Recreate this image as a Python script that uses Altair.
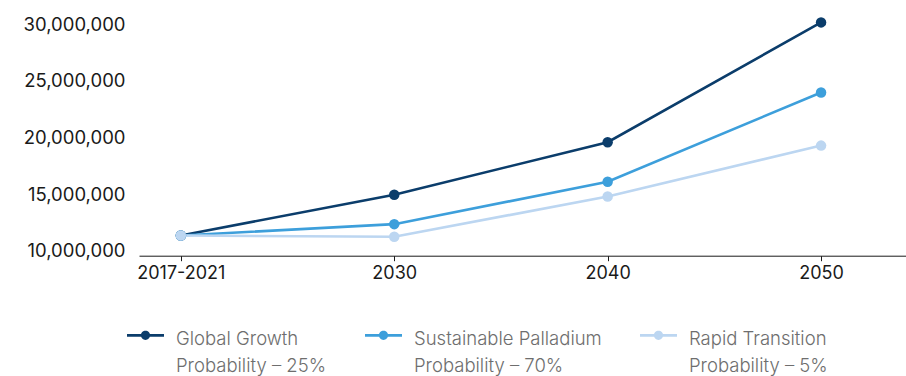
import altair as alt
import pandas as pd

periods = ["2017-2021", "2030", "2040", "2050"]
scenarios = ["Global Growth|Probability – 25%",
             "Sustainable Palladium|Probability – 70%",
             "Rapid Transition|Probability – 5%"]
colors = ["#0b3d6b", "#3d9fdb", "#bcd6f1"]
global_growth = [11.2e6, 14.8e6, 19.45e6, 30.05e6]
sustainable = [11.2e6, 12.2e6, 15.95e6, 23.85e6]
rapid = [11.2e6, 11.08e6, 14.65e6, 19.15e6]
y_ticks = [10e6, 15e6, 20e6, 25e6, 30e6]

rows = []
for name, vals in zip(scenarios, [global_growth, sustainable, rapid]):
    for p, v in zip(periods, vals):
        rows.append({"period": p, "scenario": name, "value": v})
df = pd.DataFrame(rows)

font = "Inter"
sym = ("M-1,-0.25 H1 V-0.09 H-1 Z "
       "M0.25,-0.17 A0.25,0.25 0 1,1 -0.25,-0.17 A0.25,0.25 0 1,1 0.25,-0.17 Z")

color = alt.Color(
    "scenario:N",
    scale=alt.Scale(domain=scenarios, range=colors),
    sort=scenarios,
    legend=alt.Legend(
        title=None, orient="none", legendX=-12, legendY=315,
        direction="horizontal", columns=3, columnPadding=38,
        symbolType=sym, symbolSize=1369, symbolStrokeWidth=0,
        labelExpr="split(datum.label, '|')",
        labelFont=font, labelFontSize=18.5, labelFontWeight=300,
        labelColor="#6e6e6e", labelOffset=12,
        labelBaseline="middle", labelLimit=300,
    ),
)

x = alt.X("period:N", sort=periods,
          scale=alt.Scale(domain=periods, padding=0.297, align=0.33),
          axis=alt.Axis(title=None, labelAngle=0, labelFont=font, labelFontSize=18,
                        labelColor="#1a1a1a", domainColor="#1a1a1a", tickColor="#1a1a1a",
                        tickSize=5, labelPadding=4, grid=False))
y = alt.Y("value:Q",
          scale=alt.Scale(domain=[9.41e6, 31.59e6], nice=False, zero=False),
          axis=alt.Axis(title=None, values=y_ticks, format=",d", labelFont=font,
                        labelFontSize=18.5, labelColor="#1a1a1a", domain=False,
                        ticks=False, grid=False, labelPadding=14, labelOffset=1.5))

base = alt.Chart(df).encode(x=x, y=y, color=color)
lines = base.mark_line(strokeWidth=2.6)
points = base.mark_point(filled=True, size=110, opacity=1)

chart = alt.layer(lines, points).properties(
    width=767, height=250.7,
    padding={"left": 139, "top": 5, "right": 0, "bottom": 120.3},
    autosize=alt.AutoSizeParams(type="none"),
).configure(
    background="white",
    style={"guide-label": {"lineHeight": 27}},
    view=alt.ViewConfig(stroke=None),
)

chart.save("out.html", embed_options={"renderer": "svg", "actions": False})
